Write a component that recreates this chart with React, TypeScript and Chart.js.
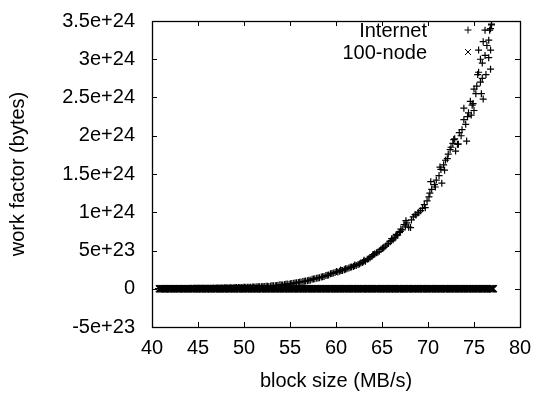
import React, { useEffect, useRef } from "react";
import { Chart, registerables } from "chart.js";

Chart.register(...registerables);

// Series values (y values in units of 1e24 bytes)
const Y_UNIT = 1e24;

const INTERNET_X = [
  40.7, 40.9, 41.2, 41.4, 41.7, 41.9, 42.2, 42.4, 42.7, 42.9, 43.2, 43.4, 43.7, 43.9, 44.2, 44.4, 44.7, 44.9,
  45.2, 45.4, 45.7, 45.9, 46.2, 46.4, 46.7, 46.9, 47.2, 47.4, 47.7, 47.9, 48.2, 48.4, 48.7, 48.9, 49.2, 49.4,
  49.7, 49.9, 50.2, 50.4, 50.7, 50.9, 51.2, 51.4, 51.7, 51.9, 52.2, 52.4, 52.7, 52.9, 53.2, 53.4, 53.7, 53.9,
  54.2, 54.4, 54.7, 54.9, 55.2, 55.4, 55.7, 55.9, 56.2, 56.4, 56.7, 56.9, 57.2, 57.4, 57.7, 57.9, 58.2, 58.4,
  58.7, 58.9, 59.2, 59.4, 59.7, 59.9, 60.2, 60.4, 60.7, 60.9, 61.2, 61.4, 61.7, 61.9, 62.2, 62.4, 62.7, 62.9,
  63.2, 63.4, 63.7, 63.9, 64.2, 64.4, 64.7, 64.9, 65.2, 65.4, 65.7, 65.9, 66.2, 66.4, 66.7, 66.9, 67.2, 67.4,
  67.7, 67.9, 68.2, 68.4, 68.7, 68.9, 69.2, 69.4, 69.7, 69.9, 70.2, 70.4, 70.7, 70.9, 71.2, 71.4, 71.7, 71.9,
  72.2, 72.4, 72.7, 72.9, 73.2, 73.4, 73.7, 73.9, 74.2, 74.4, 74.7, 74.9, 75.2, 75.4, 75.7, 75.9, 76.2, 76.4,
  76.7, 76.9,
  60.5, 61.0, 62.0, 63.0, 64.0, 65.1, 66.0, 66.5, 67.0, 67.6, 68.1, 68.6, 69.0, 69.6, 70.1, 70.3, 70.8, 71.3,
  71.5, 71.8, 72.1, 72.5, 72.8, 73.0, 73.3, 73.6, 73.9, 74.1, 74.3, 74.6, 75.0, 75.0, 75.3, 75.5, 75.5,
  75.7, 75.8, 76.0, 76.0, 76.3, 76.6, 76.6, 76.8, 76.8, 76.2, 76.8, 76.9, 75.9, 74.8,
  41.05, 41.55, 42.05, 42.55, 43.05, 43.55, 44.05, 44.55, 45.05, 45.55, 46.05, 46.55, 47.05, 47.55, 48.05, 48.55,
  49.05, 49.55, 50.05, 50.55, 51.05, 51.55, 52.05, 52.55, 53.05, 53.55, 54.05, 54.55, 55.05, 55.55, 56.05, 56.55,
  57.05, 57.55, 58.05, 58.55, 59.05, 59.55, 60.05, 60.55, 61.05, 61.55, 62.05, 62.55, 63.05, 63.55, 64.05, 64.55,
  65.05, 65.55, 66.05, 66.55, 67.05, 67.55,
];

const INTERNET_Y = [
  0.001, 0.0, 0.001, 0.002, 0.001, 0.002, 0.002, 0.003, 0.002, 0.003, 0.003, 0.004, 0.003, 0.004, 0.005, 0.004, 0.005, 0.006,
  0.005, 0.006, 0.007, 0.006, 0.008, 0.007, 0.009, 0.008, 0.01, 0.009, 0.011, 0.012, 0.011, 0.013, 0.014, 0.013, 0.015, 0.016,
  0.015, 0.018, 0.019, 0.018, 0.021, 0.023, 0.022, 0.025, 0.027, 0.026, 0.03, 0.033, 0.031, 0.036, 0.04, 0.038, 0.045, 0.052,
  0.05, 0.056, 0.062, 0.06, 0.068, 0.072, 0.078, 0.083, 0.088, 0.094, 0.1, 0.106, 0.112, 0.125, 0.13, 0.138, 0.145, 0.152,
  0.16, 0.172, 0.18, 0.195, 0.205, 0.212, 0.22, 0.228, 0.24, 0.248, 0.262, 0.27, 0.285, 0.292, 0.305, 0.318, 0.335, 0.342,
  0.36, 0.385, 0.405, 0.42, 0.455, 0.47, 0.49, 0.515, 0.54, 0.56, 0.59, 0.615, 0.64, 0.665, 0.7, 0.735, 0.77, 0.84,
  0.86, 0.805, 0.9, 0.94, 0.965, 0.99, 1.02, 1.05, 1.06, 1.15, 1.25, 1.3, 1.36, 1.42, 1.48, 1.56, 1.62, 1.68,
  1.76, 1.82, 1.9, 1.96, 1.89, 2.04, 2.08, 2.21, 1.93, 2.3, 2.27, 2.42, 2.55, 2.8, 2.7, 2.95, 3.05, 3.18,
  3.38, 3.45,
  0.245, 0.255, 0.3, 0.36, 0.44, 0.53, 0.63, 0.69, 0.75, 0.89, 0.8, 0.97, 1.0, 1.1, 1.2, 1.4, 1.33, 1.59,
  1.38, 1.55, 1.7, 1.85, 1.95, 1.8, 1.89, 2.0, 2.36, 2.15, 2.25, 2.45, 2.33, 2.61, 2.65, 2.83, 3.12,
  3.0, 2.55, 2.48, 3.23, 2.8, 3.02, 3.25, 2.87, 3.12, 3.38, 3.4, 3.46, 2.75, 2.4,
  0.001, 0.002, 0.002, 0.003, 0.003, 0.004, 0.004, 0.005, 0.006, 0.006, 0.008, 0.008, 0.01, 0.011, 0.012, 0.014,
  0.015, 0.017, 0.019, 0.02, 0.023, 0.026, 0.03, 0.034, 0.039, 0.044, 0.05, 0.06, 0.066, 0.076, 0.086, 0.098,
  0.11, 0.128, 0.142, 0.158, 0.176, 0.2, 0.225, 0.238, 0.262, 0.28, 0.312, 0.325, 0.372, 0.392, 0.448, 0.478,
  0.53, 0.585, 0.655, 0.71, 0.78, 0.82,
];

const NODE100_X = [
  40.8, 41.0, 41.3, 41.5, 41.8, 42.0, 42.3, 42.5, 42.8, 43.0, 43.3, 43.5, 43.8, 44.0, 44.3, 44.5, 44.8, 45.0,
  45.3, 45.5, 45.8, 46.0, 46.3, 46.5, 46.8, 47.0, 47.3, 47.5, 47.8, 48.0, 48.3, 48.5, 48.8, 49.0, 49.3, 49.5,
  49.8, 50.0, 50.3, 50.5, 50.8, 51.0, 51.3, 51.5, 51.8, 52.0, 52.3, 52.5, 52.8, 53.0, 53.3, 53.5, 53.8, 54.0,
  54.3, 54.5, 54.8, 55.0, 55.3, 55.5, 55.8, 56.0, 56.3, 56.5, 56.8, 57.0, 57.3, 57.5, 57.8, 58.0, 58.3, 58.5,
  58.8, 59.0, 59.3, 59.5, 59.8, 60.0, 60.3, 60.5, 60.8, 61.0, 61.3, 61.5, 61.8, 62.0, 62.3, 62.5, 62.8, 63.0,
  63.3, 63.5, 63.8, 64.0, 64.3, 64.5, 64.8, 65.0, 65.3, 65.5, 65.8, 66.0, 66.3, 66.5, 66.8, 67.0, 67.3, 67.5,
  67.8, 68.0, 68.3, 68.5, 68.8, 69.0, 69.3, 69.5, 69.8, 70.0, 70.3, 70.5, 70.8, 71.0, 71.3, 71.5, 71.8, 72.0,
  72.3, 72.5, 72.8, 73.0, 73.3, 73.5, 73.8, 74.0, 74.3, 74.5, 74.8, 75.0, 75.3, 75.5, 75.8, 76.0, 76.3, 76.5,
  76.8, 77.0,
  40.9, 41.15, 41.4, 41.65, 41.9, 42.15, 42.4, 42.65, 42.9, 43.15, 43.4, 43.65, 43.9, 44.15, 44.4, 44.65, 44.9, 45.15,
  45.4, 45.65, 45.9, 46.15, 46.4, 46.65, 46.9, 47.15, 47.4, 47.65, 47.9, 48.15, 48.4, 48.65, 48.9, 49.15, 49.4, 49.65,
  49.9, 50.15, 50.4, 50.65, 50.9, 51.15, 51.4, 51.65, 51.9, 52.15, 52.4, 52.65, 52.9, 53.15, 53.4, 53.65, 53.9, 54.15,
  54.4, 54.65, 54.9, 55.15, 55.4, 55.65, 55.9, 56.15, 56.4, 56.65, 56.9, 57.15, 57.4, 57.65, 57.9, 58.15, 58.4, 58.65,
  58.9, 59.15, 59.4, 59.65, 59.9, 60.15, 60.4, 60.65, 60.9, 61.15, 61.4, 61.65, 61.9, 62.15, 62.4, 62.65, 62.9, 63.15,
  63.4, 63.65, 63.9, 64.15, 64.4, 64.65, 64.9, 65.15, 65.4, 65.65, 65.9, 66.15, 66.4, 66.65, 66.9, 67.15, 67.4, 67.65,
  67.9, 68.15, 68.4, 68.65, 68.9, 69.15, 69.4, 69.65, 69.9, 70.15, 70.4, 70.65, 70.9, 71.15, 71.4, 71.65, 71.9, 72.15,
  72.4, 72.65, 72.9, 73.15, 73.4, 73.65, 73.9, 74.15, 74.4, 74.65, 74.9, 75.15, 75.4, 75.65, 75.9, 76.15, 76.4, 76.65,
  76.9, 77.1,
];

const NODE100_Y = [
  0, 0, 0, 0, 0, 0, 0, 0, 0, 0, 0, 0, 0, 0, 0, 0, 0, 0,
  0, 0, 0, 0, 0, 0, 0, 0, 0, 0, 0, 0, 0, 0, 0, 0, 0, 0,
  0, 0, 0, 0, 0, 0, 0, 0, 0, 0, 0, 0, 0, 0, 0, 0, 0, 0,
  0, 0, 0, 0, 0, 0, 0, 0, 0, 0, 0, 0, 0, 0, 0, 0, 0, 0,
  0, 0, 0, 0, 0, 0, 0, 0, 0, 0, 0, 0, 0, 0, 0, 0, 0, 0,
  0, 0, 0, 0, 0, 0, 0, 0, 0, 0, 0, 0, 0, 0, 0, 0, 0, 0,
  0, 0, 0, 0, 0, 0, 0, 0, 0, 0, 0, 0, 0, 0, 0, 0, 0, 0,
  0, 0, 0, 0, 0, 0, 0, 0, 0, 0, 0, 0, 0, 0, 0, 0, 0, 0,
  0, 0,
  0, 0, 0, 0, 0, 0, 0, 0, 0, 0, 0, 0, 0, 0, 0, 0, 0, 0,
  0, 0, 0, 0, 0, 0, 0, 0, 0, 0, 0, 0, 0, 0, 0, 0, 0, 0,
  0, 0, 0, 0, 0, 0, 0, 0, 0, 0, 0, 0, 0, 0, 0, 0, 0, 0,
  0, 0, 0, 0, 0, 0, 0, 0, 0, 0, 0, 0, 0, 0, 0, 0, 0, 0,
  0, 0, 0, 0, 0, 0, 0, 0, 0, 0, 0, 0, 0, 0, 0, 0, 0, 0,
  0, 0, 0, 0, 0, 0, 0, 0, 0, 0, 0, 0, 0, 0, 0, 0, 0, 0,
  0, 0, 0, 0, 0, 0, 0, 0, 0, 0, 0, 0, 0, 0, 0, 0, 0, 0,
  0, 0, 0, 0, 0, 0, 0, 0, 0, 0, 0, 0, 0, 0, 0, 0, 0, 0,
  0, 0,
];

const SERIES_LABELS = ["Internet", "100-node"];

const X_TICKS = [40, 45, 50, 55, 60, 65, 70, 75, 80];
const Y_TICKS = [-5e23, 0, 5e23, 1e24, 1.5e24, 2e24, 2.5e24, 3e24, 3.5e24];
const Y_TICK_LABELS = ["-5e+23", "0", "5e+23", "1e+24", "1.5e+24", "2e+24", "2.5e+24", "3e+24", "3.5e+24"];

const FONT = "'Liberation Sans', Arial, Helvetica, sans-serif";

const framePlugin = {
  id: "gnuplotFrame",
  afterDatasetsDraw(chart: any) {
    const { ctx, chartArea } = chart;
    const { left, right, top, bottom } = chartArea;
    const xs = chart.scales.x;
    const ys = chart.scales.y;
    ctx.save();
    ctx.strokeStyle = "#000";
    ctx.lineWidth = 1;
    ctx.beginPath();
    const tl = 5;
    xs.ticks.forEach((t: any) => {
      const px = Math.round(xs.getPixelForValue(t.value)) + 0.5;
      ctx.moveTo(px, bottom);
      ctx.lineTo(px, bottom - tl);
      ctx.moveTo(px, top);
      ctx.lineTo(px, top + tl);
    });
    ys.ticks.forEach((t: any) => {
      const py = Math.round(ys.getPixelForValue(t.value)) + 0.5;
      ctx.moveTo(left, py);
      ctx.lineTo(left + tl, py);
      ctx.moveTo(right, py);
      ctx.lineTo(right - tl, py);
    });
    ctx.stroke();
    ctx.lineWidth = 1.3;
    ctx.strokeRect(left + 0.5, top + 0.5, right - left, bottom - top);

    // key
    ctx.fillStyle = "#000";
    ctx.font = `20px ${FONT}`;
    ctx.textAlign = "right";
    ctx.textBaseline = "middle";
    const textRight = 427;
    const markX = 468;
    const rows = [31, 53];
    ctx.fillText(SERIES_LABELS[0], textRight, rows[0]);
    ctx.fillText(SERIES_LABELS[1], textRight, rows[1]);
    ctx.lineWidth = 1;
    ctx.beginPath();
    ctx.moveTo(markX - 3.5, rows[0] - 1);
    ctx.lineTo(markX + 3.5, rows[0] - 1);
    ctx.moveTo(markX, rows[0] - 4.5);
    ctx.lineTo(markX, rows[0] + 2.5);
    ctx.moveTo(markX - 3, rows[1] - 4);
    ctx.lineTo(markX + 3, rows[1] + 2);
    ctx.moveTo(markX + 3, rows[1] - 4);
    ctx.lineTo(markX - 3, rows[1] + 2);
    ctx.stroke();
    ctx.restore();
  },
};

export default function App() {
  const canvasRef = useRef<HTMLCanvasElement | null>(null);

  useEffect(() => {
    if (!canvasRef.current) return;
    const internet = INTERNET_X.map((x, i) => ({ x, y: INTERNET_Y[i] * Y_UNIT }));
    const node100 = NODE100_X.map((x, i) => ({ x, y: NODE100_Y[i] * Y_UNIT }));
    const chart = new Chart(canvasRef.current, {
      type: "scatter",
      data: {
        datasets: [
          {
            label: SERIES_LABELS[0],
            data: internet,
            pointStyle: "cross",
            pointRadius: 3.5,
            pointBorderWidth: 1.2,
            borderColor: "#000",
            backgroundColor: "#000",
          },
          {
            label: SERIES_LABELS[1],
            data: node100,
            pointStyle: "crossRot",
            pointRadius: 5,
            pointBorderWidth: 1.3,
            borderColor: "#000",
            backgroundColor: "#000",
          },
        ],
      },
      options: {
        animation: false,
        responsive: false,
        maintainAspectRatio: false,
        layout: { padding: { top: 14, right: 16, left: 0, bottom: 0 } },
        plugins: {
          legend: { display: false },
          tooltip: { enabled: false },
        },
        scales: {
          x: {
            type: "linear",
            min: 40,
            max: 80,
            afterBuildTicks: (scale: any) => {
              scale.ticks = X_TICKS.map((v) => ({ value: v }));
            },
            afterFit: (scale: any) => {
              scale.height = 67;
            },
            grid: { display: false },
            border: { display: false },
            ticks: {
              color: "#000",
              font: { family: FONT, size: 20 },
              padding: 1,
              maxRotation: 0,
              autoSkip: false,
              callback: (v: any) => String(v),
            },
            title: {
              display: true,
              text: "block size (MB/s)",
              color: "#000",
              font: { family: FONT, size: 20 },
              padding: { top: 0, bottom: 1 },
            },
          },
          y: {
            type: "linear",
            min: -5e23,
            max: 3.5e24,
            afterBuildTicks: (scale: any) => {
              scale.ticks = Y_TICKS.map((v) => ({ value: v }));
            },
            afterFit: (scale: any) => {
              scale.width = 152;
            },
            grid: { display: false },
            border: { display: false },
            ticks: {
              color: "#000",
              font: { family: FONT, size: 20 },
              padding: 9,
              autoSkip: false,
              callback: (v: any) => {
                const idx = Y_TICKS.findIndex((t) => Math.abs(t - v) < 1e20);
                return idx >= 0 ? Y_TICK_LABELS[idx] : "";
              },
            },
            title: {
              display: true,
              text: "work factor (bytes)",
              color: "#000",
              font: { family: FONT, size: 20 },
              padding: { top: 6, bottom: 0 },
            },
          },
        },
      },
      plugins: [framePlugin],
    });
    return () => chart.destroy();
  }, []);

  return (
    <div style={{ position: "absolute", left: 0, top: 0, width: 536, height: 394, background: "#fff" }}>
      <canvas ref={canvasRef} width={536} height={394} style={{ width: 536, height: 394 }} />
    </div>
  );
}
